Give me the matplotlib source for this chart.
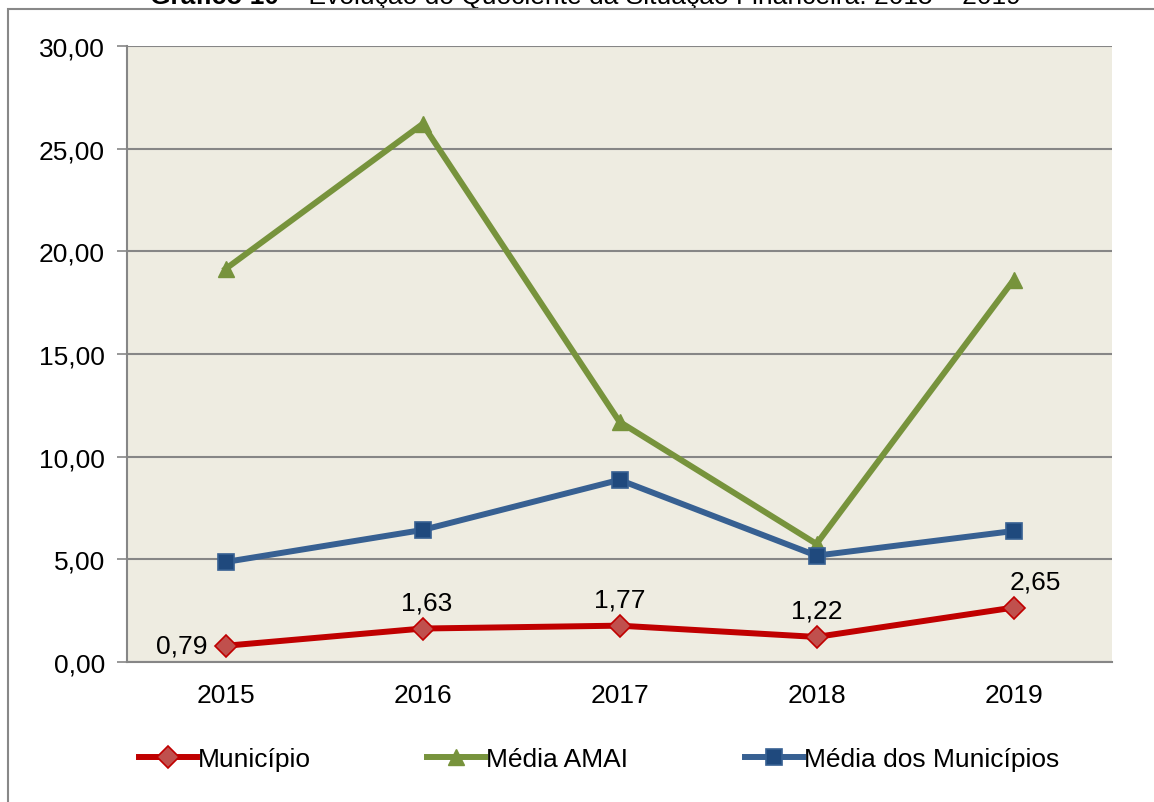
import matplotlib.pyplot as plt
from matplotlib.patches import Rectangle
from matplotlib.ticker import FuncFormatter

plt.rcParams['font.family'] = ['Liberation Sans', 'DejaVu Sans']

# data
anos = ['2015', '2016', '2017', '2018', '2019']
municipio = [0.79, 1.63, 1.77, 1.22, 2.65]
media_amai = [19.14, 26.2, 11.7, 5.75, 18.6]
media_municipios = [4.87, 6.43, 8.87, 5.18, 6.38]

fig = plt.figure(figsize=(11.54, 8.03), dpi=100)
ax = fig.add_axes([127 / 1154, 140 / 803, 985 / 1154, 616 / 803])
ax.set_facecolor('#EEECE1')

x = range(len(anos))
ax.plot(x, municipio, color='#C00000', lw=4.3, marker='D', ms=11,
        mfc='#C0504D', mec='#C00000', mew=1.2, label='Município', zorder=5)
ax.plot(x, media_amai, color='#77933C', lw=4.3, marker='^', ms=12,
        mfc='#77933C', mec='#77933C', label='Média AMAI', zorder=4)
ax.plot(x, media_municipios, color='#376092', lw=4.3, marker='s', ms=11,
        mfc='#1F497D', mec='#376092', mew=1.2, label='Média dos Municípios', zorder=4)

# data labels on the Município series
offsets = [(-13, 0, 'right'), (3, 19, 'center'), (0, 19, 'center'),
           (0, 19, 'center'), (16, 19, 'center')]
for i, v in enumerate(municipio):
    dx, dy, ha = offsets[i]
    ax.annotate(f'{v:.2f}'.replace('.', ','), (i, v), xytext=(dx, dy),
                textcoords='offset points', ha=ha, va='center', fontsize=19)

ax.set_xlim(-0.5, len(anos) - 0.5)
ax.set_ylim(0, 30)
ax.set_yticks(range(0, 31, 5))
ax.yaxis.set_major_formatter(FuncFormatter(lambda v, p: f'{v:.2f}'.replace('.', ',')))
ax.set_xticks(list(x))
ax.set_xticklabels(anos)
ax.tick_params(axis='y', length=7, width=1.2, color='#868686', pad=9, labelsize=19)
ax.tick_params(axis='x', length=0, pad=15, labelsize=19)
ax.grid(axis='y', color='#868686', lw=1.5)
ax.set_axisbelow(True)
for s in ['top', 'right']:
    ax.spines[s].set_visible(False)
for s in ['left', 'bottom']:
    ax.spines[s].set_color('#868686')
    ax.spines[s].set_linewidth(1.5)

fig.legend(loc='center', bbox_to_anchor=(0.519, 43 / 803), ncol=3, frameon=False,
           fontsize=19, handlelength=2.2, handletextpad=0.05, columnspacing=4.4)

# outer chart border (cut off on the right and bottom)
fig.patches.append(Rectangle((7.5 / 1154, -0.05), 1.1, 1 - 10 / 803 + 0.05,
                             transform=fig.transFigure, fill=False,
                             edgecolor='#888888', lw=1.5))

# title, only the lower half is visible
t1 = fig.text(150 / 1154, 1 - 4 / 803, 'Gráfico 10', fontsize=19,
              fontweight='bold', va='baseline', ha='left')
ax.annotate(' – Evolução do Quociente da Situação Financeira: 2015 – 2019',
            xy=(1, 0), xycoords=t1, va='bottom', ha='left', fontsize=19,
            annotation_clip=False)

fig.savefig('out.png', dpi=100)
